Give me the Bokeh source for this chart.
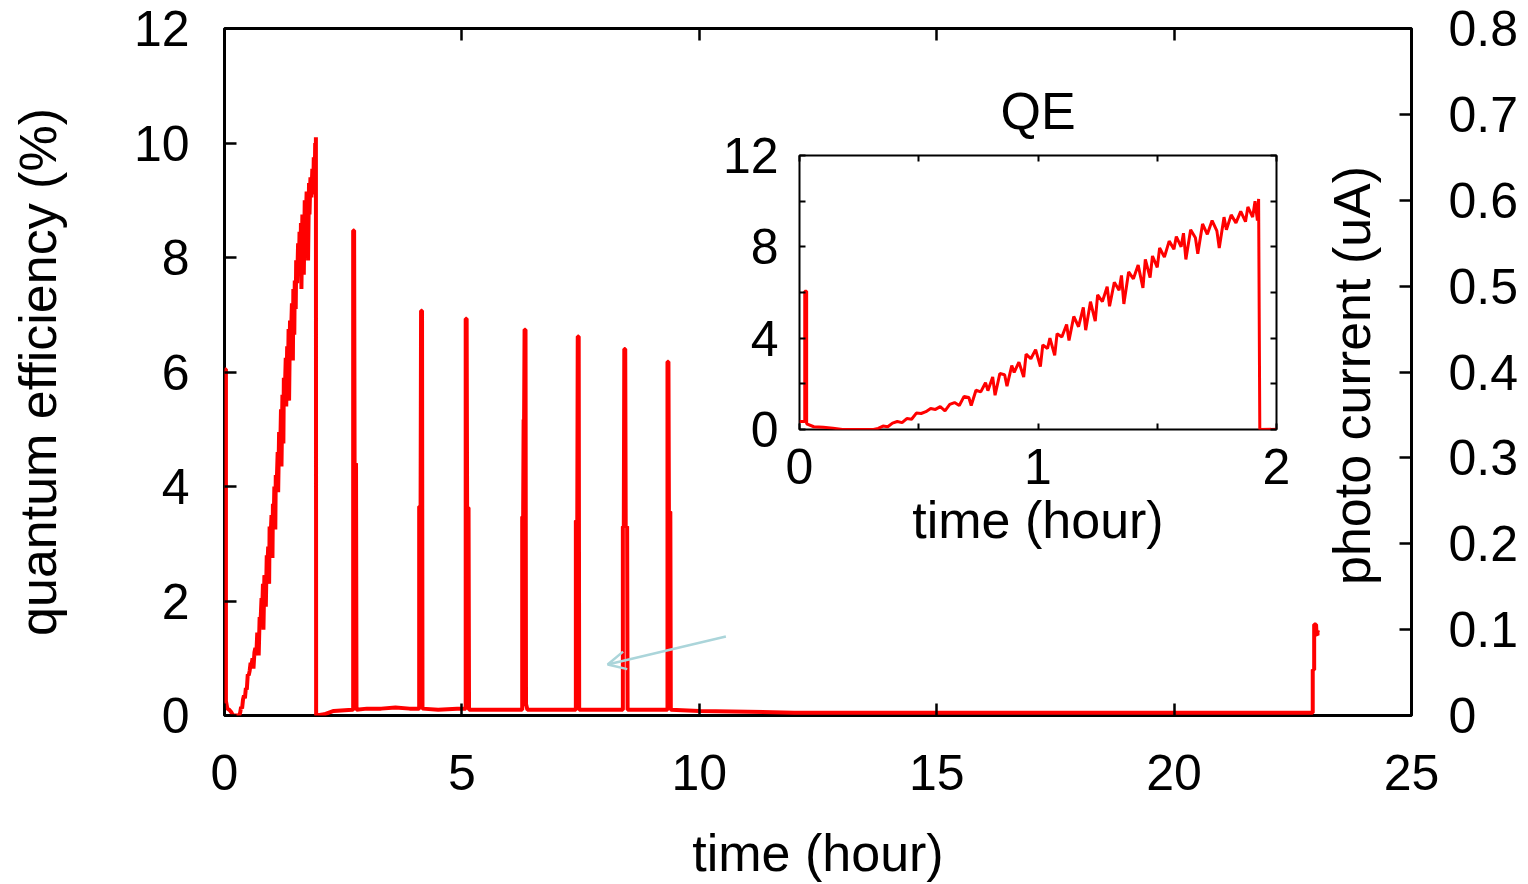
import math
from bokeh.plotting import figure
from bokeh.models import (Range1d, LinearAxis, FixedTicker, CustomJSTickFormatter,
                          Label, Arrow, OpenHead, ColumnDataSource)
from bokeh.embed import file_html
from bokeh.resources import INLINE

FONT = "Liberation Sans"
FS = "50px"      # tick labels
FS_LAB = "52px"  # axis labels / title
RED = "#ff0000"
ARROW_COLOR = "#abd5da"

# ---------------- data (time in hours, quantum efficiency in %) ----------------
# first ~2 hours (also shown in the inset)
ramp_t = [0.0, 0.022, 0.022, 0.030, 0.030, 0.06, 0.10, 0.14, 0.18, 0.31,
          0.33, 0.35, 0.37, 0.39, 0.41, 0.43, 0.45, 0.47, 0.49, 0.51,
          0.53, 0.55, 0.57, 0.59, 0.61, 0.63, 0.65, 0.67, 0.69, 0.71,
          0.72, 0.74, 0.76, 0.78, 0.79, 0.81, 0.82, 0.84, 0.86, 0.87,
          0.89, 0.90, 0.92, 0.94, 0.95, 0.97, 0.99, 1.01, 1.02, 1.04,
          1.05, 1.07, 1.08, 1.10, 1.12, 1.13, 1.15, 1.17, 1.19, 1.20,
          1.22, 1.24, 1.25, 1.27, 1.29, 1.30, 1.32, 1.34, 1.35, 1.36,
          1.38, 1.40, 1.42, 1.44, 1.45, 1.47, 1.48, 1.50, 1.51, 1.53,
          1.55, 1.57, 1.58, 1.60, 1.61, 1.62, 1.64, 1.66, 1.67, 1.69,
          1.71, 1.73, 1.75, 1.76, 1.78, 1.79, 1.81, 1.83, 1.85, 1.87,
          1.88, 1.90, 1.91, 1.92, 1.925]
ramp_qe = [0.35, 0.35, 6.05, 6.05, 0.25, 0.12, 0.10, 0.06, 0.0, 0.0,
           0.05, 0.15, 0.12, 0.28, 0.35, 0.30, 0.48, 0.45, 0.72, 0.70,
           0.78, 0.92, 0.88, 1.00, 0.82, 1.10, 1.18, 1.05, 1.45, 1.40,
           1.05, 1.72, 1.65, 2.05, 1.70, 2.30, 1.50, 2.45, 2.40, 1.90,
           2.80, 2.50, 2.95, 2.30, 3.30, 3.10, 3.50, 2.75, 3.70, 3.55,
           4.00, 3.25, 4.20, 4.05, 4.60, 3.90, 4.95, 4.50, 5.35, 4.35,
           5.60, 4.75, 5.90, 5.60, 6.25, 5.40, 6.45, 6.10, 6.75, 5.50,
           6.90, 6.60, 7.20, 6.20, 7.45, 6.65, 7.60, 7.10, 7.95, 7.55,
           8.25, 7.90, 8.45, 8.00, 8.60, 7.45, 8.75, 8.40, 7.70, 9.00,
           8.55, 9.15, 8.70, 7.95, 9.30, 8.75, 9.40, 9.05, 9.55, 9.10,
           9.75, 9.30, 10.00, 9.15, 10.10]

# rest of the run: re-activation spikes and recovery at the end
tail_t = [1.93, 2.10, 2.30, 2.69,
          2.71, 2.71, 2.73, 2.74, 2.77, 2.78,
          3.00, 3.30, 3.60, 3.90, 4.10,
          4.10, 4.10, 4.13, 4.14, 4.16, 4.17,
          4.50, 4.90, 5.07,
          5.08, 5.08, 5.10, 5.11, 5.14, 5.15,
          5.50, 6.00, 6.26,
          6.27, 6.27, 6.29, 6.30, 6.31, 6.32, 6.34, 6.35, 6.38,
          6.80, 7.39,
          7.40, 7.40, 7.43, 7.44, 7.46, 7.47,
          7.80, 8.38,
          8.39, 8.39, 8.41, 8.42, 8.44, 8.45, 8.48, 8.49,
          8.90, 9.32,
          9.33, 9.33, 9.35, 9.36, 9.39, 9.40,
          10.0, 12.0, 15.0, 18.0, 20.0, 22.90,
          22.92, 22.92, 22.95, 22.95, 22.99, 23.00, 23.02, 23.02, 23.03]
tail_qe = [0.0, 0.02, 0.08, 0.10,
           0.10, 8.47, 8.47, 4.40, 4.40, 0.10,
           0.12, 0.12, 0.14, 0.12, 0.12,
           0.12, 3.65, 3.65, 7.07, 7.07, 0.12,
           0.10, 0.12, 0.12,
           0.12, 6.93, 6.93, 3.63, 3.63, 0.10,
           0.10, 0.10, 0.10,
           0.10, 3.47, 3.47, 5.17, 5.17, 6.74, 6.74, 0.20, 0.10,
           0.10, 0.10,
           0.10, 3.40, 3.40, 6.62, 6.62, 0.10,
           0.10, 0.10,
           0.10, 3.30, 3.30, 6.40, 6.40, 3.30, 3.30, 0.10,
           0.10, 0.10,
           0.10, 6.18, 6.18, 3.56, 3.56, 0.10,
           0.08, 0.05, 0.05, 0.05, 0.05, 0.05,
           0.05, 0.80, 0.80, 1.59, 1.59, 1.42, 1.40, 1.48, 1.45]

x_ticks = [0, 5, 10, 15, 20, 25]
y_ticks = [0, 2, 4, 6, 8, 10, 12]
y2_ticks = [0, 0.1, 0.2, 0.3, 0.4, 0.5, 0.6, 0.7, 0.8]
inset_x_ticks = [0, 0.5, 1, 1.5, 2]
inset_x_labels = [0, 1, 2]
inset_y_ticks = [0, 2, 4, 6, 8, 10, 12]
inset_y_labels = [0, 4, 8, 12]

arrow_start = (10.56, 1.38)
arrow_end = (8.07, 0.89)

src = ColumnDataSource(dict(t=ramp_t + tail_t, qe=ramp_qe + tail_qe))


def style_axis(ax, tick_in, tick_w, standoff):
    ax.axis_line_color = None
    ax.major_tick_in = tick_in
    ax.major_tick_out = 0
    ax.major_tick_line_width = tick_w
    ax.major_tick_line_color = "black"
    ax.minor_tick_line_color = None
    ax.major_label_text_font = FONT
    ax.major_label_text_font_size = FS
    ax.major_label_text_color = "black"
    ax.major_label_standoff = standoff
    ax.axis_label_text_font = FONT
    ax.axis_label_text_font_size = FS_LAB
    ax.axis_label_text_font_style = "normal"
    ax.axis_label_text_color = "black"


def ticks_only(ax):
    # mirrored tick marks without any label
    ax.major_label_text_color = None
    ax.major_label_text_font_size = "1px"
    ax.major_label_standoff = 0


# ---------------- main figure ----------------
p = figure(width=1528, height=884, x_range=Range1d(0, 25), y_range=Range1d(0, 12),
           output_backend="svg", toolbar_location=None,
           min_border_left=224, min_border_right=117, min_border_top=28, min_border_bottom=169)
p.grid.visible = False
p.outline_line_color = "black"
p.outline_line_width = 3
p.background_fill_color = "white"
p.border_fill_color = "white"
p.extra_y_ranges = {"pc": Range1d(0, 0.8)}

p.xaxis.ticker = FixedTicker(ticks=x_ticks)
p.yaxis.ticker = FixedTicker(ticks=y_ticks)
style_axis(p.xaxis[0], 12, 2.5, 39)
style_axis(p.yaxis[0], 12, 2.5, 35)
p.xaxis.axis_label = "time (hour)"
p.xaxis.axis_label_standoff = 31
p.yaxis.axis_label = "quantum efficiency (%)"
p.yaxis.axis_label_standoff = 64

top_ax = LinearAxis(ticker=FixedTicker(ticks=x_ticks))
style_axis(top_ax, 12, 2.5, 0)
ticks_only(top_ax)
p.add_layout(top_ax, "above")

right_ax = LinearAxis(y_range_name="pc", ticker=FixedTicker(ticks=y2_ticks),
                      formatter=CustomJSTickFormatter(code="return tick === 0 ? '0' : tick.toFixed(1);"))
style_axis(right_ax, 12, 2.5, 37)
p.add_layout(right_ax, "right")

p.line("t", "qe", source=src, line_color=RED, line_width=4)

p.add_layout(Label(x=23.74, y=5.94, text="photo current (uA)", angle=math.pi / 2,
                   text_align="center", text_baseline="middle",
                   text_font=FONT, text_font_size=FS_LAB, text_color="black"))

p.add_layout(Arrow(end=OpenHead(size=18, line_color=ARROW_COLOR, line_width=2.5),
                   x_start=arrow_start[0], y_start=arrow_start[1],
                   x_end=arrow_end[0], y_end=arrow_end[1],
                   line_color=ARROW_COLOR, line_width=2.5))

# ---------------- inset ----------------
ins = figure(width=607, height=494, x_range=Range1d(0, 2), y_range=Range1d(0, 12),
             output_backend="svg", toolbar_location=None, title="QE",
             min_border_left=100, min_border_right=30, min_border_top=95, min_border_bottom=125,
             styles={"position": "absolute", "left": "699px", "top": "60px"})
ins.grid.visible = False
ins.outline_line_color = "black"
ins.outline_line_width = 2
ins.background_fill_color = "white"
ins.border_fill_color = None
ins.title.align = "center"
ins.title.text_font = FONT
ins.title.text_font_size = FS_LAB
ins.title.text_font_style = "normal"
ins.title.text_color = "black"
ins.title.standoff = 32

# tick marks (closest to the frame), no labels
ins.xaxis.ticker = FixedTicker(ticks=inset_x_ticks)
ins.yaxis.ticker = FixedTicker(ticks=inset_y_ticks)
style_axis(ins.xaxis[0], 6, 2, 0)
style_axis(ins.yaxis[0], 6, 2, 0)
ticks_only(ins.xaxis[0])
ticks_only(ins.yaxis[0])

# labels only
xlab = LinearAxis(ticker=FixedTicker(ticks=inset_x_labels), axis_label="time (hour)")
style_axis(xlab, 0, 0, 19)
xlab.major_tick_line_color = None
xlab.axis_label_standoff = 4
ins.add_layout(xlab, "below")

ylab = LinearAxis(ticker=FixedTicker(ticks=inset_y_labels))
style_axis(ylab, 0, 0, 21)
ylab.major_tick_line_color = None
ins.add_layout(ylab, "left")

for loc, tk in (("above", inset_x_ticks), ("right", inset_y_ticks)):
    ax = LinearAxis(ticker=FixedTicker(ticks=tk))
    style_axis(ax, 6, 2, 0)
    ticks_only(ax)
    ins.add_layout(ax, loc)

ins.line("t", "qe", source=src, line_color=RED, line_width=3)

open("out.html", "w").write(file_html([p, ins], INLINE))
